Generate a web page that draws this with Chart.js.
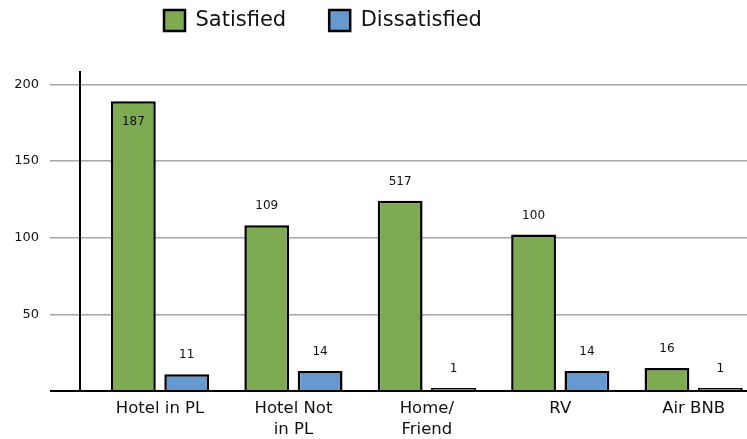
<!DOCTYPE html>
<html><head><meta charset="utf-8">
<script src="https://cdn.jsdelivr.net/npm/chart.js@4.4.1/dist/chart.umd.min.js"></script>
<style>html,body{margin:0;padding:0;background:#fff;overflow:hidden}#wrap{width:747px;height:439px;position:relative}</style>
</head><body><div id="wrap"><canvas id="c"></canvas></div>
<script>
const categories = ['Hotel in PL', ['Hotel Not', 'in PL'], ['Home/', 'Friend'], 'RV', 'Air BNB'];
const satisfiedValues = [189, 108, 124, 102, 15];
const dissatisfiedValues = [11, 13, 2, 13, 2];
const satisfiedLabels = ['187', '109', '517', '100', '16'];
const dissatisfiedLabels = ['11', '14', '1', '14', '1'];
const yTickValues = [0, 50, 100, 150, 200];
const seriesNames = ['Satisfied', 'Dissatisfied'];

const FONT = '"DejaVu Sans"';

const fixLayout = {
  id: 'fixLayout',
  beforeLayout(chart) {
    const l = chart.legend;
    if (l && !l._patched) {
      const f = l.fit;
      l.fit = function () { f.call(this); this.height = 72; };
      l._patched = true;
    }
  },
  afterLayout(chart) {
    const l = chart.legend;
    if (!l) return;
    const pad = l.options.labels.padding;
    const w = l.right - l.left;
    l.left = 164 - pad;
    l.right = l.left + w;
    l.top = 10 - pad;
  }
};

const valueLabels = {
  id: 'valueLabels',
  afterDatasetsDraw(chart) {
    const ctx = chart.ctx;
    ctx.save();
    ctx.font = '12px ' + FONT;
    ctx.fillStyle = '#111';
    ctx.textAlign = 'center';
    ctx.textBaseline = 'middle';
    const lbls = [satisfiedLabels, dissatisfiedLabels];
    chart.data.datasets.forEach((ds, di) => {
      const meta = chart.getDatasetMeta(di);
      meta.data.forEach((el, i) => {
        let y = el.y - 19;
        if (y < chart.chartArea.top + 40) y = el.y + 21;
        ctx.fillText(lbls[di][i], el.x, y);
      });
    });
    ctx.restore();
  }
};

new Chart(document.getElementById('c'), {
  type: 'bar',
  data: {
    datasets: [
      {
        label: seriesNames[0],
        data: satisfiedValues.map((v, i) => ({ x: i, y: v })),
        backgroundColor: '#7eaa52',
        borderColor: '#000',
        borderWidth: 2.5
      },
      {
        label: seriesNames[1],
        data: dissatisfiedValues.map((v, i) => ({ x: i, y: v })),
        backgroundColor: '#6699cf',
        borderColor: '#000',
        borderWidth: 2.5
      }
    ]
  },
  options: {
    responsive: true,
    maintainAspectRatio: false,
    animation: false,
    devicePixelRatio: 1,
    categoryPercentage: 0.8,
    barPercentage: 0.84,
    layout: { padding: 0 },
    plugins: {
      tooltip: { enabled: false },
      legend: {
        position: 'top',
        align: 'start',
        labels: {
          boxWidth: 21,
          boxHeight: 21,
          padding: 43,
          color: '#111',
          font: { family: FONT, size: 21 }
        }
      }
    },
    scales: {
      x: {
        type: 'linear',
        offset: false,
        bounds: 'data',
        min: -0.6,
        max: 4.4,
        afterBuildTicks: (s) => { s.ticks = categories.map((c, i) => ({ value: i })); },
        afterFit: (s) => { s.height = 48; },
        grid: { display: false, drawTicks: false, offset: false },
        border: { display: true, color: '#000', width: 2 },
        ticks: {
          autoSkip: false,
          maxRotation: 0,
          padding: 7,
          color: '#111',
          font: { family: FONT, size: 16.5, lineHeight: 1.28 },
          callback: (v) => categories[v]
        }
      },
      y: {
        min: 0,
        max: 208,
        afterBuildTicks: (s) => { s.ticks = yTickValues.map(v => ({ value: v })); },
        afterFit: (s) => { s.width = 80; },
        grid: {
          color: (c) => c.tick && c.tick.value === 0 ? '#000' : '#a6a6a6',
          lineWidth: (c) => c.tick && c.tick.value === 0 ? 2 : 1.5,
          tickLength: 30
        },
        border: { display: true, color: '#000', width: 2 },
        ticks: {
          padding: 11,
          color: '#111',
          font: { family: FONT, size: 13 },
          callback: (v) => v === 0 ? '' : String(v)
        }
      }
    }
  },
  plugins: [fixLayout, valueLabels]
});
</script>
</body></html>
